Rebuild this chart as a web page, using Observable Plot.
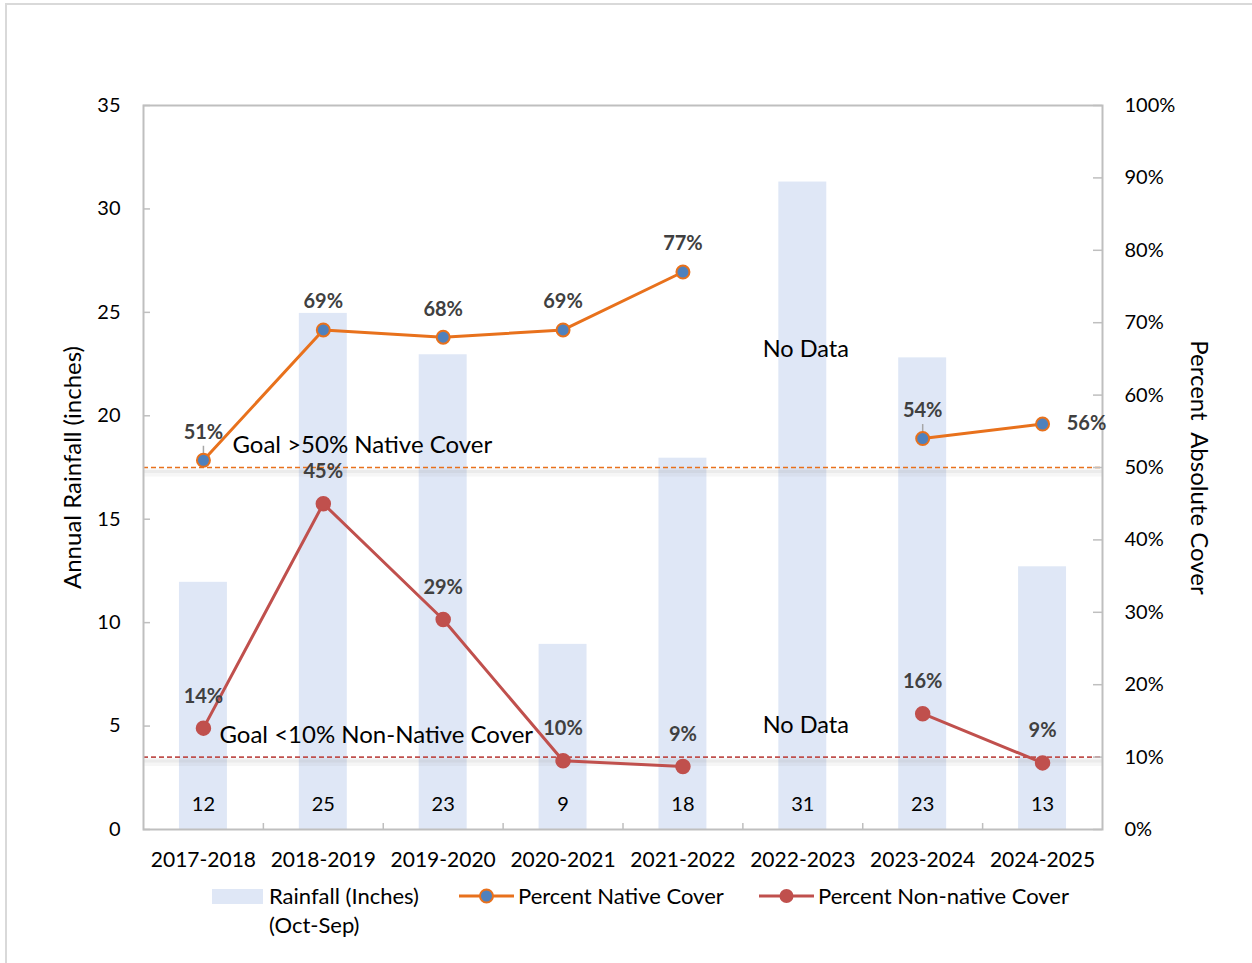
<!DOCTYPE html>
<html>
<head>
<meta charset="utf-8">
<script src="https://cdn.jsdelivr.net/npm/d3@7"></script>
<script src="https://cdn.jsdelivr.net/npm/@observablehq/plot@0.6"></script>
<style>
  html, body { margin: 0; padding: 0; background: #fff; overflow: hidden; }
  #wrap { position: relative; width: 1252px; height: 963px; overflow: hidden; font-family: Lato, "Noto Sans", sans-serif; }
  #border { position: absolute; left: 5px; top: 3px; width: 1260px; height: 980px; border: 2px solid #d9d9d9; box-sizing: border-box; }
  #chart { position: absolute; left: 0; top: 0; }
  .lg { position: absolute; font-size: 22px; color: #000; line-height: 29px; white-space: nowrap; }
</style>
</head>
<body>
<div id="wrap">
  <div id="border"></div>
  <div id="chart"></div>
  <div id="legend"></div>
</div>
<script>
// ---------- data ----------
const years = ["2017-2018","2018-2019","2019-2020","2020-2021","2021-2022","2022-2023","2023-2024","2024-2025"];
const rainfall = [11.95, 24.95, 22.95, 8.95, 17.95, 31.3, 22.8, 12.7];
const rainfallLabels = ["12","25","23","9","18","31","23","13"];
const nativeCover = [51, 69, 68, 69, 77, null, 54, 56];        // percent
const nonNativeCover = [14, 45, 29, 9.5, 8.7, null, 16, 9.2];   // percent
const nonNativeLabels = ["14%","45%","29%","10%","9%",null,"16%","9%"];
const nativeLabels = ["51%","69%","68%","69%","77%",null,"54%","56%"];
const leaderYears = ["2017-2018", "2023-2024"];
const goals = [{pct: 50, text: "Goal >50% Native Cover"}, {pct: 10, text: "Goal <10% Non-Native Cover"}];
const noData = [{year: "2022-2023", pct: 66.3, text: "No Data"}, {year: "2022-2023", pct: 14.4, text: "No Data"}];
const leftTicks = [0, 5, 10, 15, 20, 25, 30, 35];
const rightTicks = [0, 10, 20, 30, 40, 50, 60, 70, 80, 90, 100];
const legendItems = ["Rainfall (Inches)", "(Oct-Sep)", "Percent Native Cover", "Percent Non-native Cover"];

// ---------- derived tables ----------
const yMax = 35;
const pctToY = p => p * yMax / 100;
const table = years.map((y, i) => ({
  year: y, rain: rainfall[i], rainLabel: rainfallLabels[i],
  nat: nativeCover[i] == null ? null : pctToY(nativeCover[i]),
  natLabel: nativeLabels[i],
  non: nonNativeCover[i] == null ? null : pctToY(nonNativeCover[i]),
  nonLabel: nonNativeLabels[i]
}));
const natPts = table.filter(d => d.nat != null);
const nonPts = table.filter(d => d.non != null);

const ORANGE = "#E8711C", BLUE = "#4F81BD", RED = "#C0504D", BAR = "#DFE7F6", AXIS = "#BFBFBF", LABEL = "#404040";
const W = 1252, H = 882, ML = 143, MR = 150, MT = 105, MB = 53;
const plotW = W - ML - MR, plotH = H - MT - MB;
const step = plotW / years.length;

const chart = Plot.plot({
  width: W, height: H,
  marginLeft: ML, marginRight: MR, marginTop: MT, marginBottom: MB,
  style: {fontFamily: "Lato, 'Noto Sans', sans-serif", fontSize: "20px", color: "#000", background: "transparent"},
  x: {type: "band", domain: years, paddingInner: 0.6, paddingOuter: 0.3, round: false, label: null},
  y: {domain: [0, yMax], label: null},
  marks: [
    Plot.barY(table, {x: "year", y: "rain", fill: BAR}),
    // goal line shadows
    Plot.ruleY(goals, {y: d => pctToY(d.pct), stroke: "#888", strokeOpacity: 0.08, strokeWidth: 8, dy: 5}),
    Plot.ruleY(goals, {y: d => pctToY(d.pct), stroke: "#888", strokeOpacity: 0.1, strokeWidth: 3, dy: 4}),
    Plot.ruleY(goals, {y: d => pctToY(d.pct), stroke: (d, i) => i === 0 ? ORANGE : RED, strokeWidth: 1.6, strokeDasharray: "5,3"}),
    // frame
    Plot.frame({stroke: AXIS, strokeWidth: 2}),
    // left axis
    Plot.axisY(leftTicks, {anchor: "left", tickSize: 0, tickPadding: 23, label: null, fontSize: 20}),
    Plot.tickY(leftTicks, {y: d => d, stroke: AXIS, strokeWidth: 1.5, insetRight: plotW - 7}),
    // right axis
    Plot.axisY(rightTicks.map(pctToY), {anchor: "right", tickSize: 0, tickPadding: 22, label: null, tickFormat: d => Math.round(d * 100 / yMax) + "%", fontSize: 20}),
    Plot.tickY(rightTicks.map(pctToY), {y: d => d, stroke: AXIS, strokeWidth: 1.5, insetLeft: plotW - 9}),
    // x axis
    Plot.axisX({anchor: "bottom", tickSize: 0, tickPadding: 23, label: null, fontSize: 21}),
    Plot.tickX(years.slice(0, -1), {x: d => d, dx: step / 2, stroke: AXIS, strokeWidth: 1.5, insetTop: plotH - 6}),
    // rainfall labels
    Plot.text(table, {x: "year", text: "rainLabel", frameAnchor: "bottom", dy: -19, fontSize: 20, fill: "#000"}),
    // goal & no-data annotations
    Plot.text([goals[0]], {x: () => years[0], y: d => pctToY(d.pct), text: "text", textAnchor: "start", dx: 29, dy: -22, fontSize: 24, fill: "#000"}),
    Plot.text([goals[1]], {x: () => years[0], y: d => pctToY(d.pct), text: "text", textAnchor: "start", dx: 16, dy: -22, fontSize: 24, fill: "#000"}),
    Plot.text(noData, {x: "year", y: d => pctToY(d.pct), text: "text", dx: 3, fontSize: 23.5, fill: "#000"}),
    // native line
    Plot.line(table, {x: "year", y: "nat", stroke: ORANGE, strokeWidth: 3}),
    // leader lines
    Plot.ruleX(natPts.filter(d => leaderYears.includes(d.year)), {x: "year", y1: "nat", y2: "nat", insetTop: -14, insetBottom: 0, stroke: "#A6A6A6", strokeWidth: 1.5}),
    Plot.dot(natPts, {x: "year", y: "nat", r: 6.5, fill: BLUE, stroke: ORANGE, strokeWidth: 2}),
    // non-native line
    Plot.line(table, {x: "year", y: "non", stroke: RED, strokeWidth: 3}),
    Plot.dot(nonPts, {x: "year", y: "non", r: 7, fill: RED, stroke: RED}),
    // value labels
    Plot.text(natPts.slice(0, -1), {x: "year", y: "nat", text: "natLabel", dy: -28, fontSize: 20, fontWeight: "bold", fill: LABEL}),
    Plot.text(natPts.slice(-1), {x: "year", y: "nat", text: "natLabel", dx: 44, fontSize: 20, fontWeight: "bold", fill: LABEL}),
    Plot.text(nonPts, {x: "year", y: "non", text: "nonLabel", dy: -32, fontSize: 20, fontWeight: "bold", fill: LABEL}),
    // axis titles
    Plot.text(["Annual Rainfall (inches)"], {frameAnchor: "left", textAnchor: "middle", dx: -70, rotate: -90, fontSize: 24, fill: "#000"}),
    Plot.text(["Percent  Absolute Cover"], {frameAnchor: "right", textAnchor: "middle", dx: 96, rotate: 90, fontSize: 24, fill: "#000"})
  ]
});
document.getElementById("chart").appendChild(chart);

// ---------- legend ----------
const lg = document.getElementById("legend");
lg.innerHTML = `
  <div style="position:absolute;left:212px;top:889px;width:51px;height:15px;background:${BAR}"></div>
  <div class="lg" style="left:269px;top:881px">${legendItems[0]}</div>
  <div class="lg" style="left:269px;top:910px">${legendItems[1]}</div>
  <svg style="position:absolute;left:459px;top:886px" width="56" height="20">
    <line x1="0" y1="10" x2="55" y2="10" stroke="${ORANGE}" stroke-width="3"/>
    <circle cx="27.5" cy="10" r="6.5" fill="${BLUE}" stroke="${ORANGE}" stroke-width="2"/>
  </svg>
  <div class="lg" style="left:518px;top:881px">${legendItems[2]}</div>
  <svg style="position:absolute;left:759px;top:886px" width="56" height="20">
    <line x1="0" y1="10" x2="55" y2="10" stroke="${RED}" stroke-width="3"/>
    <circle cx="27.5" cy="10" r="7" fill="${RED}"/>
  </svg>
  <div class="lg" style="left:818px;top:881px">${legendItems[3]}</div>
`;
</script>
</body>
</html>
